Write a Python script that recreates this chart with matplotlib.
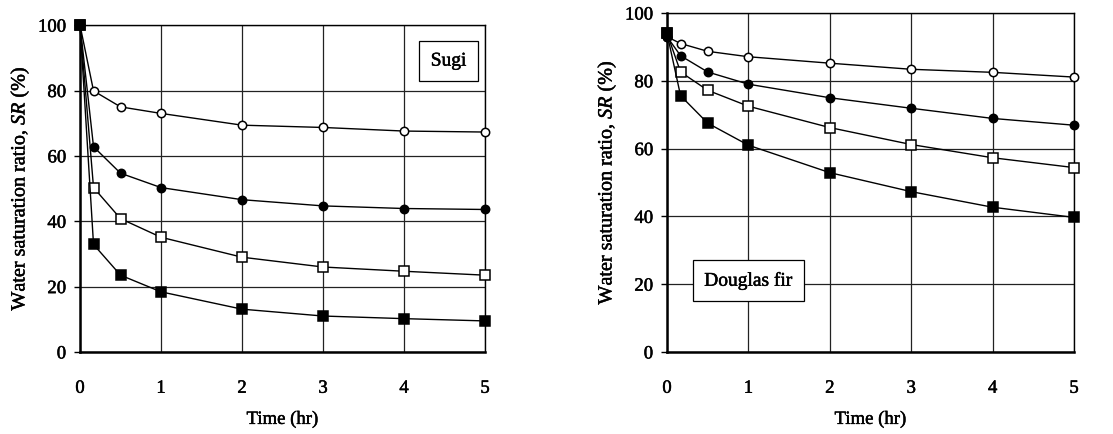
import matplotlib
matplotlib.use("Agg")
import matplotlib.pyplot as plt
import matplotlib.patheffects as pe

plt.rcParams['font.family'] = ['Liberation Serif', 'DejaVu Serif']
plt.rcParams['mathtext.fontset'] = 'custom'
plt.rcParams['mathtext.rm'] = 'Liberation Serif'
plt.rcParams['mathtext.it'] = 'Liberation Serif:italic'

# time (hr)
time = [0, 1/6, 0.5, 1, 2, 3, 4, 5]

# Sugi
sugi_open_circle = [100, 79.9, 75.0, 73.0, 69.4, 68.7, 67.6, 67.3]
sugi_filled_circle = [100, 62.8, 54.7, 50.3, 46.6, 44.7, 43.9, 43.6]
sugi_open_square = [100, 50.3, 40.8, 35.1, 29.0, 26.0, 24.7, 23.5]
sugi_filled_square = [100, 32.9, 23.5, 18.4, 13.1, 11.0, 10.2, 9.5]

# Douglas fir
fir_open_circle = [93, 91.0, 88.7, 87.1, 85.2, 83.4, 82.5, 81.1]
fir_filled_circle = [93, 87.4, 82.6, 79.0, 75.0, 71.9, 68.9, 66.9]
fir_open_square = [94, 82.6, 77.2, 72.5, 66.2, 61.2, 57.3, 54.4]
fir_filled_square = [94, 75.6, 67.5, 61.0, 52.9, 47.3, 42.7, 39.7]

x_ticks = [0, 1, 2, 3, 4, 5]
y_ticks = [0, 20, 40, 60, 80, 100]

styles = [('o', 'white'), ('o', 'black'), ('s', 'white'), ('s', 'black')]
thick = [pe.withStroke(linewidth=0.35, foreground='black')]

fig = plt.figure(figsize=(11.13, 4.34), dpi=100)
ax1 = fig.add_axes([0.0719, 0.189, 0.3639, 0.753])
ax2 = fig.add_axes([0.5993, 0.189, 0.3657, 0.781])


def panel(ax, series, name, box_xy):
    for (m, fc), y in zip(styles, series):
        ax.plot(time, y, color='black', lw=1.0, marker=m, markersize=6 if m == 'o' else 6.5,
                markerfacecolor=fc, markeredgecolor='black', markeredgewidth=1.1,
                clip_on=False, zorder=3)
    ax.set_xlim(0, 5)
    ax.set_ylim(0, 100)
    ax.set_xticks(x_ticks)
    ax.set_yticks(y_ticks)
    ax.grid(True, color='#222222', lw=0.9)
    ax.set_axisbelow(True)
    for s in ['left', 'bottom']:
        ax.spines[s].set_linewidth(1.8)
    for s in ['top', 'right']:
        ax.spines[s].set_linewidth(1.0)
    ax.tick_params(axis='both', labelsize=13.5, direction='out', length=4, width=1, pad=6)
    ax.tick_params(axis='x', pad=20, length=0)
    for lab in ax.get_xticklabels() + ax.get_yticklabels():
        lab.set_path_effects(thick)
    ax.set_xlabel('Time (hr)', fontsize=13.5, labelpad=10, path_effects=thick)
    ax.set_ylabel(r'Water saturation ratio, $\mathit{SR}$ (%)', fontsize=14.5, labelpad=5,
                  path_effects=thick)
    ax.text(box_xy[0], box_xy[1], name, transform=ax.transAxes, fontsize=14,
            ha='center', va='center', path_effects=thick,
            bbox=dict(boxstyle='square,pad=0.6', fc='white', ec='black', lw=0.9))


panel(ax1, [sugi_open_circle, sugi_filled_circle, sugi_open_square, sugi_filled_square],
      'Sugi', (0.91, 0.89))
panel(ax2, [fir_open_circle, fir_filled_circle, fir_open_square, fir_filled_square],
      'Douglas fir', (0.2, 0.21))

fig.savefig('out.png', dpi=100)
